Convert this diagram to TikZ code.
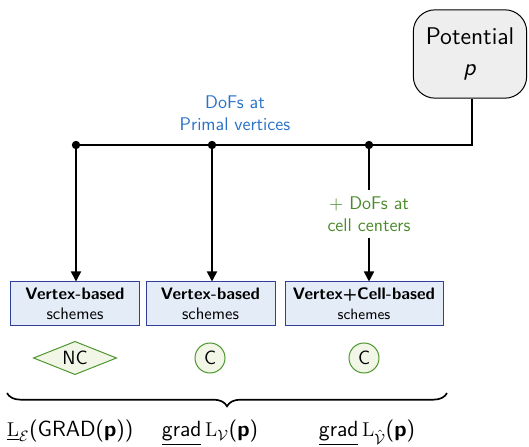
\documentclass[tikz,border=0pt]{standalone}
\usetikzlibrary{arrows.meta,shapes.geometric,decorations.pathreplacing,calc}
\renewcommand{\familydefault}{\sfdefault}
\definecolor{dofblue}{HTML}{2A72C8}
\definecolor{dofgreen}{HTML}{4A8A2A}
\definecolor{boxfill}{HTML}{E4ECF7}
\definecolor{boxdraw}{HTML}{2F3F9A}
\definecolor{cfill}{HTML}{F1F6E7}
\definecolor{cdraw}{HTML}{4F962F}
\definecolor{potfill}{HTML}{EEEEEE}
\begin{document}
\begin{tikzpicture}[x=0.6pt,y=-0.6pt,
  conn/.style={line width=1pt},
  arr/.style={line width=1pt,-{Triangle[width=6pt,length=6pt]}},
  dot/.style={circle,fill=black,inner sep=0pt,minimum size=5pt},
  scheme/.style={draw=boxdraw,fill=boxfill,line width=0.6pt,minimum height=26.4pt,inner sep=1pt,align=center},
  nc/.style={diamond,aspect=2.5,draw=cdraw,fill=cfill,line width=0.6pt,inner sep=1pt,minimum width=50pt,minimum height=20pt,font=\fontsize{11.5}{13}\selectfont},
  cc/.style={circle,draw=cdraw,fill=cfill,line width=0.6pt,minimum size=18pt,inner sep=0pt,font=\fontsize{11.5}{13}\selectfont},
  lbl/.style={align=center,font=\fontsize{11}{13.5}\selectfont},
  formula/.style={font=\fontsize{13.2}{15}\selectfont,inner sep=0pt}
]
\useasboundingbox (0,0) rectangle (529,447);
\node[draw,fill=potfill,rounded corners=13pt,line width=0.6pt,minimum width=68pt,minimum height=53pt,align=center,font=\fontsize{14.5}{19}\selectfont] (pot) at (470,54) {Potential\\ \textit{p}};
\coordinate (c) at (472,145);
\node[dot] (d1) at (76,145) {};
\node[dot] (d2) at (212,145) {};
\node[dot] (d3) at (369,145) {};
\draw[conn] (pot.south -| c) -- (c) -- (d1.center);
\node[lbl,text=dofblue] (blue) at (235,113) {DoFs at\\ Primal vertices};
\node[lbl,text=dofgreen] (green) at (369,214) {$+$ DoFs at\\ cell centers};
\node[scheme,minimum width=78pt] (b1) at (75,304) {\textbf{Vertex-based}\\ schemes};
\node[scheme,minimum width=77.4pt] (b2) at (210.5,304) {\textbf{Vertex-based}\\ schemes};
\node[scheme,minimum width=94.8pt] (b3) at (364,304) {\textbf{Vertex+Cell-based}\\ \small schemes};
\draw[arr] (d1.center) -- (d1 |- b1.north);
\draw[arr] (d2.center) -- (d2 |- b2.north);
\draw[conn] (d3.center) -- (d3 |- green.north);
\draw[arr] (d3 |- green.south) -- (d3 |- b3.north);
\node[nc] (n1) at (75,358) {NC};
\node[cc] (n2) at (210,358) {C};
\node[cc] (n3) at (364,358) {C};
\coordinate (bl) at (7,393);
\coordinate (br) at (447,393);
\draw[line width=1pt,decorate,decoration={brace,mirror,amplitude=8pt}] (bl) -- (br);
\node[formula,anchor=base] (f1) at (70,437) {$\underline{\mathrm{L}}_{\mathcal{E}}$(GRAD(\textbf{p}))};
\node[formula,anchor=base] (f2) at (210,437) {$\underline{\mbox{grad}}$\,$\mathrm{L}_{\mathcal{V}}$(\textbf{p})};
\node[formula,anchor=base] (f3) at (367,437) {$\underline{\mbox{grad}}$\,$\mathrm{L}_{\hat{\mathcal{V}}}$(\textbf{p})};
\end{tikzpicture}
\end{document}
